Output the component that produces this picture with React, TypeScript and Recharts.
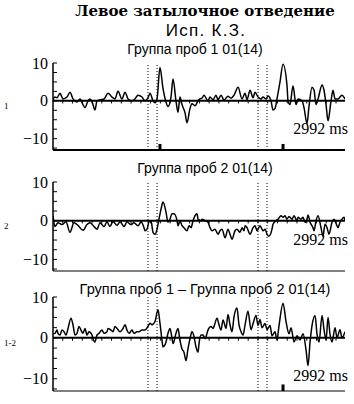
import React from 'react';
import { LineChart, Line, XAxis, YAxis, ReferenceLine } from 'recharts';

// ---------- data ----------
const TIME_MAX = 2992; // ms
const timeLabel = '2992 ms';
const mainTitle = 'Левое затылочное отведение';
const subjectTitle = 'Исп. К.З.';
const panelTitles = ['Группа проб 1 01(14)', 'Группа проб 2 01(14)', 'Группа проб 1 – Группа проб 2 01(14)'];
const rowLabels = ['1', '2', '1-2'];

const yTicks = [-12.5, -10, -7.5, -5, -2.5, 0, 2.5, 5, 7.5, 10];
const yLabels = [10, 0, -10];
const stimulusLines = [973, 1066, 2101, 2193];
const zeroAxisTicks = [100, 200, 300, 400, 500, 600, 700, 800, 900, 1000, 1100, 1200, 1300, 1400, 1500, 1600, 1700, 1800, 1900, 2000, 2100, 2200, 2300, 2400, 2500, 2600, 2700, 2800, 2900];
const p1Markers = [1096, 2357];
const p2Markers: number[] = [];
const p3Markers = [2357];

const p1Time = [0, 20, 41, 72, 102, 143, 174, 205, 246, 277, 307, 328, 359, 379, 400, 430, 451, 482, 523, 564, 605, 635, 666, 707, 738, 769, 810, 840, 871, 912, 943, 973, 994, 1025, 1045, 1066, 1096, 1127, 1158, 1178, 1209, 1230, 1260, 1281, 1301, 1322, 1353, 1373, 1404, 1424, 1455, 1486, 1506, 1527, 1547, 1588, 1609, 1640, 1670, 1691, 1722, 1752, 1793, 1824, 1855, 1896, 1937, 1968, 1988, 2019, 2050, 2070, 2101, 2132, 2152, 2183, 2203, 2234, 2254, 2275, 2295, 2326, 2357, 2398, 2408, 2429, 2459, 2490, 2511, 2552, 2572, 2603, 2623, 2654, 2675, 2695, 2716, 2757, 2777, 2798, 2818, 2849, 2869, 2890, 2920, 2961, 2992];
const p1Value = [0.3, 1, 0.8, 2, 0.5, 1, 2.3, 0.5, -0.3, 0.5, -1, -1.8, 0, 0.5, -0.2, -2.4, 0, 0.3, 0.5, 2, 1, 0.5, 2.5, 0.5, 2.3, 0.5, 0, 0.5, 1.5, 1, 0, 0.8, 2, 0, -0.5, 0.5, 8.8, 3.3, -0.3, -1.5, 1, 5.8, 0, -3, 1, -1, -3.2, -5.8, -2, -0.8, -1.3, 0, 0.5, 0.7, 1.5, 0, 1, 0.3, 1.5, 0.3, 1.5, 0.2, 1.2, 0.7, 1.5, 3.6, 0.5, 2, 0.3, 2.8, 0.8, 2.3, 1, 0.5, 1, 0.5, 1.3, 0, -2.4, -2, 0.5, 5, 9.7, 4, 0, -1, 4, -1, 0.5, 0, -1.8, -6, -1.5, 3.6, 2.8, -1, 0.5, 4.2, 2.8, -1, -5.3, 0, 2.8, 0.5, 0.5, 1.5, 0.5];

const p2Time = [0, 20, 51, 92, 133, 174, 215, 256, 307, 348, 379, 420, 451, 482, 523, 553, 584, 615, 656, 687, 728, 758, 799, 830, 871, 902, 932, 943, 963, 984, 1004, 1025, 1045, 1066, 1086, 1107, 1127, 1158, 1178, 1199, 1219, 1240, 1271, 1281, 1301, 1322, 1342, 1373, 1394, 1414, 1435, 1455, 1476, 1486, 1517, 1527, 1558, 1588, 1609, 1629, 1660, 1691, 1711, 1732, 1763, 1793, 1814, 1834, 1865, 1885, 1916, 1937, 1957, 1968, 1988, 2019, 2050, 2070, 2091, 2121, 2152, 2173, 2193, 2213, 2244, 2254, 2285, 2306, 2336, 2357, 2377, 2398, 2418, 2449, 2470, 2500, 2511, 2541, 2562, 2582, 2603, 2613, 2634, 2664, 2675, 2695, 2716, 2746, 2767, 2787, 2808, 2828, 2859, 2879, 2910, 2920, 2941, 2961, 2982, 2992];
const p2Value = [1.3, -1.5, -0.5, -1, -0.3, -3, -0.5, -1.2, -2.5, -1, -0.5, -1.5, -2.2, -0.5, -1.5, -0.3, -1.5, -0.2, -1.2, -0.3, -1.5, -0.3, -1, -0.5, -1.3, -0.3, -1.8, -2.6, -2.2, -0.3, 0, -3, -3.5, -2.2, 0.4, 3, 4.8, 2.2, -0.4, 0.4, 1.8, 1.8, 0, -1.3, 0, -1.3, -1.8, -2.6, -1.3, -1.8, 0, 1.3, 1.8, 0.4, 0, 0.4, 0, -0.4, -1.8, -2.6, -2.2, -3.5, -2.6, -2.2, -4.4, -2.2, -3.5, -4.8, -2.6, -2.2, -3, -1.8, -2.6, -1.3, -1.8, -3.5, -1.8, -1.3, -2.6, -1.3, -2.6, -2.2, -3.5, -4, -2.2, -0.9, 0, 0.4, 1.3, 0.9, 1.3, 0.4, 1.1, 0.4, 1.3, 0, 0.9, 0.4, 0.9, -0.4, 0.4, 1.5, -0.4, -1.8, -2.6, 0, 1.3, -1.8, -4, -0.9, -1.8, -3.5, -0.4, 0.4, -1.3, -1.8, -0.4, 0.4, 0.9, 0];

const p3Time = [0, 20, 41, 51, 72, 92, 113, 133, 154, 184, 205, 225, 246, 266, 287, 307, 328, 348, 369, 400, 410, 430, 451, 471, 502, 523, 553, 564, 594, 615, 635, 656, 687, 717, 738, 758, 779, 810, 830, 861, 881, 912, 943, 973, 994, 1014, 1045, 1076, 1096, 1117, 1127, 1158, 1178, 1199, 1219, 1230, 1260, 1281, 1301, 1322, 1342, 1363, 1383, 1404, 1424, 1445, 1465, 1486, 1496, 1517, 1537, 1558, 1578, 1588, 1619, 1640, 1650, 1681, 1701, 1722, 1742, 1773, 1793, 1814, 1834, 1855, 1885, 1906, 1927, 1947, 1968, 1998, 2029, 2050, 2080, 2101, 2121, 2142, 2173, 2193, 2224, 2244, 2275, 2295, 2316, 2357, 2388, 2418, 2439, 2470, 2500, 2531, 2562, 2593, 2613, 2634, 2654, 2685, 2705, 2726, 2757, 2777, 2798, 2818, 2838, 2859, 2890, 2910, 2941, 2961, 2992];
const p3Value = [1, 1.1, 1.9, 1.1, 0.7, 1.9, 1.5, 0.7, 2.3, 4.8, 3.2, 0.7, 1.1, 2.8, 1.9, 1.1, 2.3, 0.7, 1.5, 0.7, -0.2, -1, 0.7, 1.1, 1.9, 1.1, 1.5, 2.3, 1.9, 1.5, 2.8, 2.3, 1.5, 2.3, 3.2, 1.9, 1.1, 1.9, 1.1, 1.5, 1.5, 1.9, 1.9, 2.8, 3.6, 3.2, 4, 6.9, 3.6, -0.6, -2.2, -1, 1.1, 2.3, 0, -1.4, 1.1, 2.3, -0.6, -2.7, -3.5, -5.6, -2.7, -0.2, 1.5, 0.3, -2.2, -3.5, -1.4, 0.7, 0.7, -0.2, 1.1, 1.9, 2.8, 2.3, 2.8, 4.8, 3.2, 1.9, 4.4, 2.3, 5.7, 3.2, 1.5, 5.2, 7.3, 3.2, 1.5, 0.7, 3.2, 6.5, 2, 3.5, 5.5, 3, 4.5, 2.5, 3.5, 2, 3, 0.5, 1.5, -0.5, 3, 8.5, 4, 1, 2.5, -1, 0.5, -0.5, 1, -3, -6.8, -1, 3, 5.5, 1, -1, 5.5, 2, -0.5, 5, 1, -1, 2.5, 0, 2, 0, 1.5];

// ---------- layout ----------
const Y_MIN = -13;
const Y_MAX = 10;
const PLOT_LEFT = 53;
const PLOT_RIGHT = 345;
const W = 354;

const toRows = (times: number[], values: number[]) => times.map((t, i) => ({ t, v: values[i] }));

const panels = [
  { top: 63, bottom: 150, data: toRows(p1Time, p1Value), markers: p1Markers, title: panelTitles[0], titleTop: 43, titleCenter: 195, titleSize: 14, row: rowLabels[0], msTop: 121, baseWidth: 2 },
  { top: 182, bottom: 271, data: toRows(p2Time, p2Value), markers: p2Markers, title: panelTitles[1], titleTop: 162, titleCenter: 205, titleSize: 14, row: rowLabels[1], msTop: 232, baseWidth: 1.2 },
  { top: 297, bottom: 391, data: toRows(p3Time, p3Value), markers: p3Markers, title: panelTitles[2], titleTop: 283, titleCenter: 205, titleSize: 14.5, row: rowLabels[2], msTop: 368, baseWidth: 1.2 },
];

const SERIF = '"Liberation Serif", "Times New Roman", serif';
const SANS = '"Liberation Sans", Arial, sans-serif';

const YTick = (props: any) => {
  const { x, y, payload } = props;
  const v = payload.value as number;
  const show = yLabels.includes(v);
  const label = v < 0 ? '\u2212' + Math.abs(v) : String(v);
  return (
    <g>
      <line x1={x} y1={y} x2={x + 4} y2={y} stroke="#000" strokeWidth={1} />
      {show && (
        <text x={x - 5} y={y} dy="0.35em" textAnchor="end" fontFamily={SERIF} fontSize={16} fill="#000">
          {label}
        </text>
      )}
    </g>
  );
};

const PAD = 12;

function Panel({ p }: { p: (typeof panels)[number] }) {
  const h = p.bottom - p.top + PAD * 2;
  return (
    <div style={{ position: 'absolute', left: 0, top: p.top - PAD, width: W, height: h }}>
      <LineChart width={W} height={h} data={p.data} margin={{ top: PAD, right: W - PLOT_RIGHT, bottom: PAD, left: PLOT_LEFT - 30 }}>
        <XAxis type="number" dataKey="t" domain={[0, TIME_MAX]} hide allowDataOverflow />
        <YAxis
          type="number"
          domain={[Y_MIN, Y_MAX]}
          ticks={yTicks}
          interval={0}
          width={30}
          tickSize={0}
          tickMargin={0}
          tickLine={false}
          axisLine={{ stroke: '#000', strokeWidth: 1.5 }}
          tick={<YTick />}
          allowDataOverflow
        />
        {stimulusLines.map((t) => (
          <ReferenceLine key={'s' + t} x={t} stroke="#000" strokeWidth={1} strokeDasharray="1 2" />
        ))}
        {zeroAxisTicks.map((t) => (
          <ReferenceLine key={'z' + t} segment={[{ x: t, y: 0 }, { x: t, y: -0.7 }]} stroke="#000" strokeWidth={1} />
        ))}
        <ReferenceLine y={0} stroke="#000" strokeWidth={2} />
        <ReferenceLine y={Y_MIN} stroke="#000" strokeWidth={p.baseWidth} />
        {p.markers.map((t) => (
          <ReferenceLine key={'m' + t} segment={[{ x: t, y: Y_MIN }, { x: t, y: Y_MIN + 1.6 }]} stroke="#000" strokeWidth={3} />
        ))}
        <Line type="monotone" dataKey="v" stroke="#000" strokeWidth={1.5} dot={false} isAnimationActive={false} />
      </LineChart>
    </div>
  );
}

const abs = (extra: React.CSSProperties): React.CSSProperties => ({ position: 'absolute', whiteSpace: 'nowrap', color: '#000', ...extra });

export default function App() {
  return (
    <div style={{ position: 'absolute', left: 0, top: 0, width: W, height: 404, background: '#fff', overflow: 'hidden' }}>
      <div style={abs({ left: 205 - 170, width: 340, top: 4, textAlign: 'center', fontFamily: '"DejaVu Serif", serif', fontWeight: 'bold', fontSize: 15, lineHeight: '15px' })}>
        {mainTitle}
      </div>
      <div style={abs({ left: 206 - 100, width: 200, top: 24, textAlign: 'center', fontFamily: SANS, fontSize: 17, lineHeight: '14px', letterSpacing: 1.3 })}>
        {subjectTitle}
      </div>
      {panels.map((p, i) => (
        <React.Fragment key={i}>
          <Panel p={p} />
          <div style={abs({ left: p.titleCenter - 170, width: 340, top: p.titleTop, textAlign: 'center', fontFamily: SANS, fontSize: p.titleSize, lineHeight: '12px' })}>
            {p.title}
          </div>
          <div style={abs({ left: 4, top: (p.top + p.bottom) / 2 - 5, fontFamily: SERIF, fontSize: 9, lineHeight: '9px' })}>
            {p.row}
          </div>
          <div style={abs({ left: 0, width: 348, top: p.msTop, textAlign: 'right', fontFamily: SERIF, fontSize: 16, lineHeight: '16px' })}>
            {timeLabel}
          </div>
        </React.Fragment>
      ))}
    </div>
  );
}
